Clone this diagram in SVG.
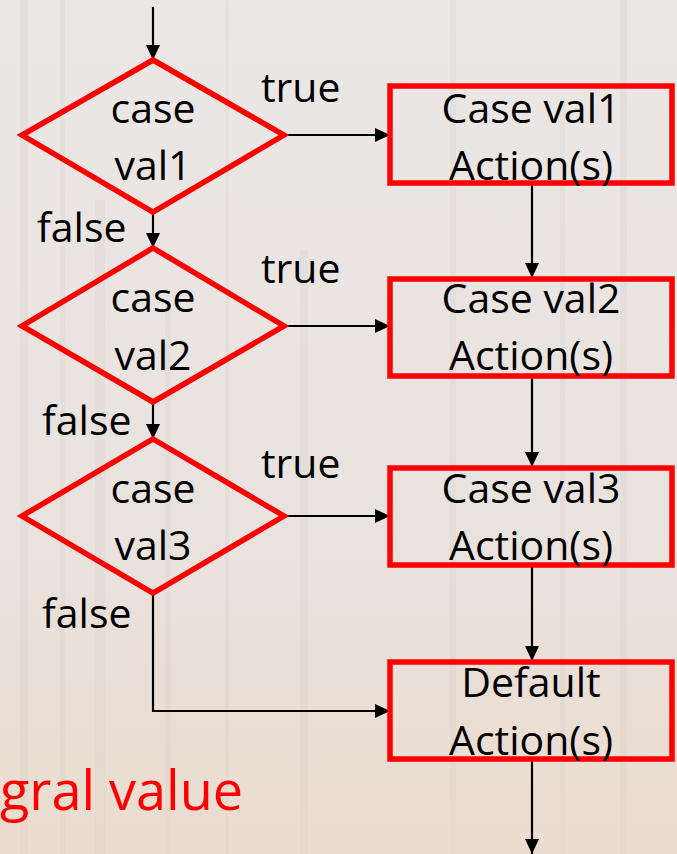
<svg xmlns="http://www.w3.org/2000/svg" width="677" height="854" viewBox="0 0 677 854">
<defs>
<marker id="ah" markerWidth="15" markerHeight="14" refX="15" refY="7" orient="auto" markerUnits="userSpaceOnUse" viewBox="0 0 15 14">
<path d="M0,0 L15,7 L0,14 z" fill="#000"/>
</marker>
<linearGradient id="bg" x1="0" y1="0" x2="0" y2="1">
<stop offset="0" stop-color="#ebe7e5"/>
<stop offset="0.6" stop-color="#e9e3df"/>
<stop offset="0.8" stop-color="#eadfd6"/>
<stop offset="1" stop-color="#ebdcd0"/>
</linearGradient>
<style>
.dia{fill:none;stroke:#ff0000;stroke-width:5.5;stroke-linejoin:miter}
.box{fill:none;stroke:#ff0000;stroke-width:5.5}
.lbl{font-family:"Open Sans","Liberation Sans",sans-serif;font-size:41px;fill:#000}
.mid{text-anchor:middle}
.con{fill:none;stroke:#000;stroke-width:2.2}
.arr{marker-end:url(#ah)}
</style>
</defs>
<rect x="0" y="0" width="677" height="854" fill="url(#bg)"/>
<g opacity="0.22" fill="#d6ccc4">
<rect x="20" y="0" width="8" height="854"/>
<rect x="60" y="0" width="5" height="854"/>
<rect x="95" y="200" width="10" height="654"/>
<rect x="165" y="300" width="6" height="554"/>
<rect x="225" y="0" width="4" height="854"/>
<rect x="300" y="250" width="8" height="604"/>
<rect x="450" y="0" width="6" height="854"/>
<rect x="560" y="100" width="5" height="754"/>
<rect x="620" y="0" width="7" height="854"/>
</g>
<g id="connectors">
<line class="con arr" x1="153" y1="7" x2="153" y2="60"/>
<line class="con arr" x1="284" y1="135" x2="390" y2="135"/>
<line class="con arr" x1="153" y1="212" x2="153" y2="248"/>
<line class="con arr" x1="284" y1="326" x2="390" y2="326"/>
<line class="con arr" x1="153" y1="402" x2="153" y2="439"/>
<line class="con arr" x1="284" y1="516" x2="390" y2="516"/>
<polyline class="con arr" points="153,593 153,711 390,711"/>
<line class="con arr" x1="532" y1="184" x2="532" y2="278"/>
<line class="con arr" x1="532" y1="375" x2="532" y2="467"/>
<line class="con arr" x1="532" y1="567" x2="532" y2="661"/>
<line class="con arr" x1="532" y1="761" x2="532" y2="854"/>
</g>
<g id="labels">
<text class="lbl" x="261" y="102">true</text>
<text class="lbl" x="261" y="283">true</text>
<text class="lbl" x="261" y="478">true</text>
<text class="lbl" x="37" y="242">false</text>
<text class="lbl" x="42" y="435">false</text>
<text class="lbl" x="42" y="628">false</text>
</g>
<g id="d1">
<polygon class="dia" points="153,60 284,135 153,212 22,135"/>
<text class="lbl mid" x="153" y="123">case</text>
<text class="lbl mid" x="153" y="180">val1</text>
</g>
<g id="d2">
<polygon class="dia" points="153,248 284,326 153,402 22,326"/>
<text class="lbl mid" x="153" y="312">case</text>
<text class="lbl mid" x="153" y="370">val2</text>
</g>
<g id="d3">
<polygon class="dia" points="153,439 284,516 153,593 22,516"/>
<text class="lbl mid" x="153" y="503">case</text>
<text class="lbl mid" x="153" y="560">val3</text>
</g>
<g id="b1">
<rect class="box" x="390" y="86" width="282" height="97"/>
<text class="lbl mid" x="531" y="123">Case val1</text>
<text class="lbl mid" x="531" y="180">Action(s)</text>
</g>
<g id="b2">
<rect class="box" x="390" y="279" width="282" height="97"/>
<text class="lbl mid" x="531" y="313">Case val2</text>
<text class="lbl mid" x="531" y="370">Action(s)</text>
</g>
<g id="b3">
<rect class="box" x="390" y="468" width="282" height="97"/>
<text class="lbl mid" x="531" y="503">Case val3</text>
<text class="lbl mid" x="531" y="560">Action(s)</text>
</g>
<g id="b4">
<rect class="box" x="390" y="662" width="282" height="97"/>
<text class="lbl mid" x="531" y="697">Default</text>
<text class="lbl mid" x="531" y="755">Action(s)</text>
</g>
<text x="0" y="810" font-family="Open Sans, Liberation Sans, sans-serif" font-size="54" fill="#ff0000">gral value</text>
</svg>
